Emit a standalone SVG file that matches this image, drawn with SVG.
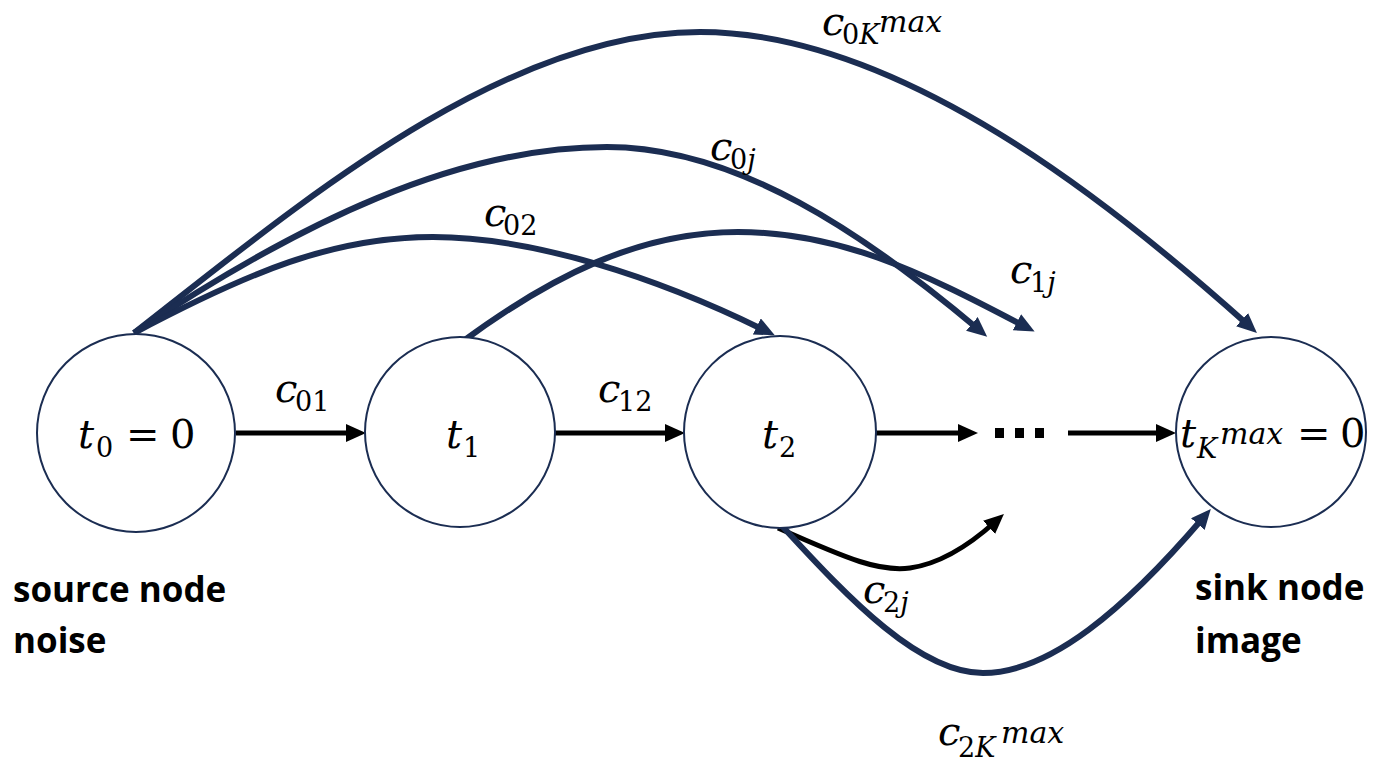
<svg xmlns="http://www.w3.org/2000/svg" width="1377" height="765" viewBox="0 0 1377 765">
<style>
.node{fill:#fff;stroke:#1b2d52;stroke-width:2}
.nv{fill:none;stroke:#1b2d52;stroke-width:6}
.bk{fill:none;stroke:#000;stroke-width:5}
.m{font-family:"DejaVu Serif",serif;fill:#000;font-size:40px}
.i{font-style:italic}
.sub{font-size:27px}
.sup{font-size:30px;font-style:italic}
.lbl{font-family:"Open Sans",Lato,sans-serif;font-weight:bold;font-size:35px;fill:#000}
</style>
<defs>
<marker id="an" markerUnits="userSpaceOnUse" markerWidth="22" markerHeight="20" refX="8" refY="9" orient="auto">
<path d="M0,0 L20,9 L0,18 z" fill="#1b2d52"/>
</marker>
<marker id="ab" markerUnits="userSpaceOnUse" markerWidth="22" markerHeight="20" refX="8" refY="9" orient="auto">
<path d="M0,0 L20,9 L0,18 z" fill="#000"/>
</marker>
</defs>
<g id="connectors">
<path class="bk" d="M236,433 L354,433" marker-end="url(#ab)"/>
<path class="bk" d="M555,433 L673,433" marker-end="url(#ab)"/>
<path class="bk" d="M876,433 L966,433" marker-end="url(#ab)"/>
<path class="bk" d="M1068,433 L1164,433" marker-end="url(#ab)"/>
<path class="nv" d="M134,333 C292,210 500,32 700,32 C900,32 1114,205 1248,325" marker-end="url(#an)"/>
<path class="nv" d="M134,333 C300,222 457,147 607,147 C737,147 865,234 978,329" marker-end="url(#an)"/>
<path class="nv" d="M134,333 C249,272 333,237 433,237 C533,237 656,277 764,330" marker-end="url(#an)"/>
<path class="nv" d="M462,342 C550,277 638,232 738,232 C838,232 918,270 1024,326" marker-end="url(#an)"/>
<path class="bk" d="M778,528 C850,560 880,572 910,568 C945,563 975,540 995,522" marker-end="url(#ab)"/>
<path class="nv" d="M783,527 C850,600 920,673 983,673 C1050,673 1125,609 1203,518" marker-end="url(#an)"/>
<rect x="995" y="428" width="9" height="10" fill="#000"/>
<rect x="1015" y="428" width="9" height="10" fill="#000"/>
<rect x="1035" y="428" width="9" height="10" fill="#000"/>
</g>
<g id="edge-labels">
<text class="m"><tspan class="i" x="275" y="402">c</tspan><tspan class="sub" x="295" y="411">01</tspan></text>
<text class="m"><tspan class="i" x="598" y="402">c</tspan><tspan class="sub" x="618" y="411">12</tspan></text>
<text class="m"><tspan class="i" x="484" y="226">c</tspan><tspan class="sub" x="503" y="235">02</tspan></text>
<text class="m"><tspan class="i" x="710" y="160">c</tspan><tspan class="sub" x="730" y="169">0</tspan><tspan class="sub i">j</tspan></text>
<text class="m"><tspan class="i" x="1010" y="283">c</tspan><tspan class="sub" x="1030" y="292">1</tspan><tspan class="sub i">j</tspan></text>
<text class="m"><tspan class="i" x="822" y="35">c</tspan><tspan class="sub" x="842" y="44">0</tspan><tspan class="sub i">K</tspan><tspan class="sup" x="879" y="32">max</tspan></text>
<text class="m"><tspan class="i" x="863" y="603">c</tspan><tspan class="sub" x="883" y="612">2</tspan><tspan class="sub i">j</tspan></text>
<text class="m"><tspan class="i" x="938" y="745">c</tspan><tspan class="sub" x="958" y="757">2</tspan><tspan class="sub i">K</tspan><tspan class="sup" x="1001" y="743">max</tspan></text>
</g>
<g id="node-t0">
<circle class="node" cx="136" cy="433" r="99"/>
<text class="m"><tspan class="i" x="78" y="448">t</tspan><tspan class="sub" x="96" y="457">0</tspan><tspan x="126" y="448">=</tspan><tspan x="170" y="448">0</tspan></text>
</g>
<g id="node-t1">
<circle class="node" cx="460" cy="432" r="95"/>
<text class="m"><tspan class="i" x="446" y="448">t</tspan><tspan class="sub" x="463" y="457">1</tspan></text>
</g>
<g id="node-t2">
<circle class="node" cx="780" cy="432" r="96"/>
<text class="m"><tspan class="i" x="762" y="448">t</tspan><tspan class="sub" x="779" y="457">2</tspan></text>
</g>
<g id="node-tK">
<circle class="node" cx="1271" cy="432" r="95"/>
<text class="m"><tspan class="i" x="1180" y="447">t</tspan><tspan class="sub i" x="1197" y="458">K</tspan><tspan class="sup" x="1220" y="444">max</tspan><tspan x="1297" y="447">=</tspan><tspan x="1340" y="447">0</tspan></text>
</g>
<g id="source-label">
<text class="lbl" x="13" y="602">source node</text>
<text class="lbl" x="13" y="653">noise</text>
</g>
<g id="sink-label">
<text class="lbl" x="1195" y="600">sink node</text>
<text class="lbl" x="1195" y="653">image</text>
</g>
</svg>
